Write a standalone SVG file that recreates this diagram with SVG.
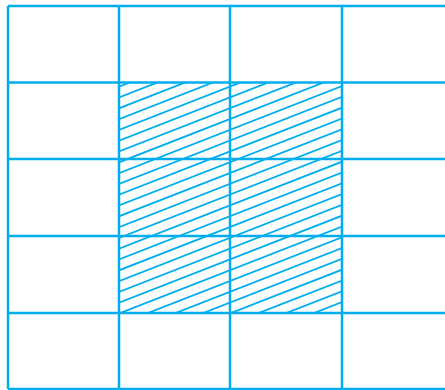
<svg xmlns="http://www.w3.org/2000/svg" width="445" height="390" viewBox="0 0 445 390">
<style>
.g{stroke:#00AEEF;stroke-width:2.5;fill:none}
.h{stroke:#00AEEF;stroke-width:1.8;fill:none}
</style>
<defs>
<clipPath id="c"><rect x="119" y="82.5" width="223" height="230.5"/></clipPath>
</defs>
<rect width="445" height="390" fill="#fff"/>
<g id="hatch" clip-path="url(#c)">
<path class="h" d="M119,86.7L342,-0.3M119,97.5L342,10.5M119,108.3L342,21.3M119,119.1L342,32.1M119,129.9L342,42.9M119,140.7L342,53.7M119,151.5L342,64.5M119,162.3L342,75.3M119,173.1L342,86.1M119,183.9L342,96.9M119,194.7L342,107.7M119,205.5L342,118.5M119,216.3L342,129.3M119,227.1L342,140.1M119,237.9L342,150.9M119,248.7L342,161.7M119,259.5L342,172.5M119,270.3L342,183.3M119,281.1L342,194.1M119,291.9L342,204.9M119,302.7L342,215.7M119,313.5L342,226.5M119,324.3L342,237.3M119,335.1L342,248.1M119,345.9L342,258.9M119,356.7L342,269.7M119,367.5L342,280.5M119,378.3L342,291.3M119,389.1L342,302.1M119,399.9L342,312.9"/>
</g>
<g id="grid">
<path class="g" d="M8,6V389M119,6V389M230,6V389M342,6V389"/>
<path class="g" d="M8,6H445M8,82.5H445M8,159H445M8,236H445M8,313H445M8,389H445"/>
</g>
</svg>
